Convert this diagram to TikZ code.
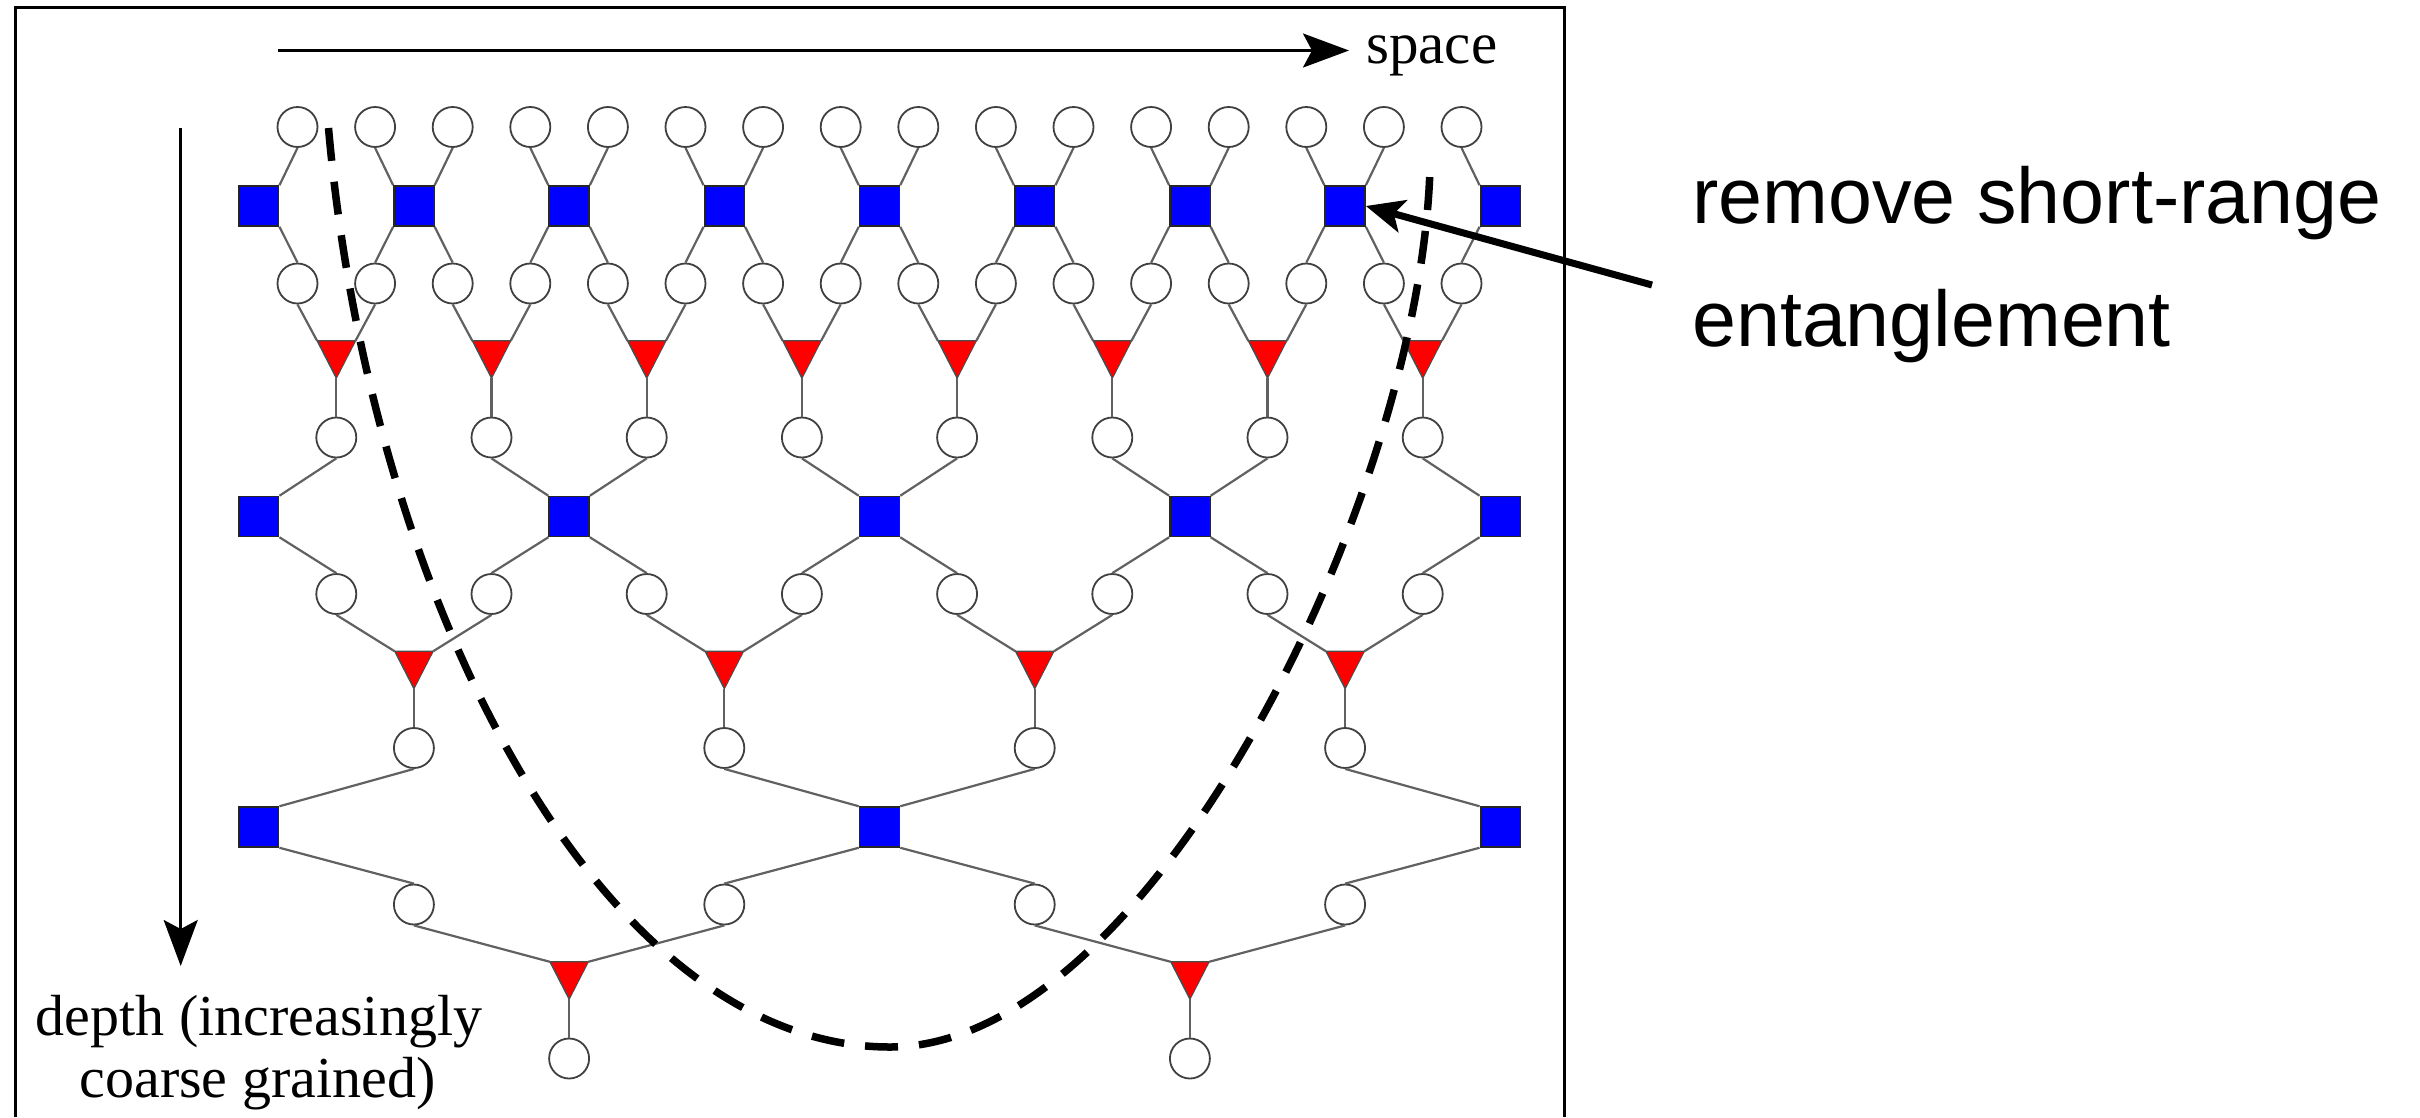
\documentclass[tikz,border=0pt]{standalone}
\usepackage{fontspec}
\setmainfont{Liberation Serif}
\newfontfamily\labelsans{Liberation Sans}
\usetikzlibrary{arrows.meta}
\begin{document}
\begin{tikzpicture}[x=1pt,y=-1pt,
  circ/.style={circle,draw=black!75,line width=1.8pt,fill=white,minimum size=40pt,inner sep=0pt},
  sq/.style={rectangle,draw=black!85,line width=1.5pt,fill=blue,minimum size=40pt,inner sep=0pt},
  tribox/.style={rectangle,minimum width=38pt,minimum height=37pt,inner sep=0pt},
  trifill/.style={fill=red,draw=black!70,line width=1.2pt,line join=miter},
  link/.style={draw=black!62,line width=2.2pt},
  axisarrow/.style={line width=2.8pt,-{Stealth[length=46pt,width=34pt,inset=9pt]}},
  ptr/.style={line width=7pt,-{Stealth[length=38pt,width=33pt,inset=9pt]}},
  dcurve/.style={line width=7.5pt,dash pattern=on 33pt off 21pt},
  frameline/.style={line width=3pt},
]
\useasboundingbox (0,0) rectangle (2420,1117);
\fill[white] (0,0) rectangle (2420,1117);

% frame
\coordinate (fbl) at (15,1117);
\coordinate (ftl) at (15,7.8);
\coordinate (ftr) at (1564,7.8);
\coordinate (fbr) at (1564,1117);
\draw[frameline] (fbl) -- (ftl) -- (ftr) -- (fbr);

% input circles of every level
\foreach \L in {0,1,2,3} {
  \pgfmathsetmacro\dd{77.6*2^\L}
  \pgfmathsetmacro\cc{297.5+38.8*(2^\L-1)}
  \pgfmathtruncatemacro\NN{16/2^\L-1}
  \pgfmathsetmacro\ya{127+310.5*\L}
  \foreach \i in {0,...,\NN} {
    \node[circ] (a\L-\i) at ({\cc+\dd*\i},\ya) {};
  }
}

% layers
\foreach \L in {0,1,2} {
  \pgfmathsetmacro\dd{77.6*2^\L}
  \pgfmathsetmacro\cc{297.5+38.8*(2^\L-1)}
  \pgfmathtruncatemacro\NC{16/2^\L}
  \pgfmathtruncatemacro\NN{\NC-1}
  \pgfmathtruncatemacro\KK{\NC/2}
  \pgfmathtruncatemacro\MM{\NC/2-1}
  \pgfmathtruncatemacro\Lp{\L+1}
  \pgfmathsetmacro\ya{127+310.5*\L}
  \foreach \i in {0,...,\NN} {
    \node[circ] (b\L-\i) at ({\cc+\dd*\i},{\ya+156.5}) {};
  }
  \foreach \k in {0,...,\KK} {
    \node[sq] (s\L-\k) at ({258.7+2*\dd*\k},{\ya+79}) {};
    \pgfmathtruncatemacro\kl{2*\k-1}
    \pgfmathtruncatemacro\kr{2*\k}
    \ifnum\k>0
      \draw[link] (a\L-\kl.south) -- (s\L-\k.north west);
      \draw[link] (s\L-\k.south west) -- (b\L-\kl.north);
    \fi
    \ifnum\kr<\NC
      \draw[link] (a\L-\kr.south) -- (s\L-\k.north east);
      \draw[link] (s\L-\k.south east) -- (b\L-\kr.north);
    \fi
  }
  \foreach \m in {0,...,\MM} {
    \node[tribox] (t\L-\m) at ({\cc+\dd/2+2*\dd*\m},{\ya+232.5}) {};
    \draw[trifill] (t\L-\m.north west) -- (t\L-\m.north east) -- (t\L-\m.south) -- cycle;
    \pgfmathtruncatemacro\ml{2*\m}
    \pgfmathtruncatemacro\mr{2*\m+1}
    \draw[link] (b\L-\ml.south) -- (t\L-\m.north west);
    \draw[link] (b\L-\mr.south) -- (t\L-\m.north east);
    \draw[link] (t\L-\m.south) -- (a\Lp-\m.north);
  }
}

% axes
\coordinate (spL) at (278,50.5);
\coordinate (spR) at (1349,50.5);
\draw[axisarrow] (spL) -- (spR);
\node[anchor=base west,inner sep=0pt,font=\fontsize{59}{70}\selectfont] (spacelbl) at (1366,63) {space};

\coordinate (dpT) at (180.7,128);
\coordinate (dpB) at (180.7,966);
\draw[axisarrow] (dpT) -- (dpB);
\node[anchor=base,inner sep=0pt,font=\fontsize{58}{68}\selectfont] (dep1) at (259,1035) {depth (increasingly};
\node[anchor=base,inner sep=0pt,font=\fontsize{58}{68}\selectfont] (dep2) at (257.5,1097) {coarse grained)};

% right label and pointer
\node[anchor=base west,inner sep=0pt,font=\labelsans\fontsize{79}{95}\selectfont] (rm1) at (1692,223) {remove short-range};
\node[anchor=base west,inner sep=0pt,font=\labelsans\fontsize{79}{95}\selectfont] (rm2) at (1692,346) {entanglement};
\coordinate (ptrS) at (1652,285);
\draw[ptr] (ptrS) -- (s0-7.east);

% dashed causal cone
\coordinate (dA) at (328.5,128);
\coordinate (dB) at (890,1047);
\coordinate (dC) at (1430,168);
\draw[dcurve] (dA) .. controls (370,600) and (600,1047) .. (dB) .. controls (1150,1047) and (1420,500) .. (dC);
\end{tikzpicture}
\end{document}
